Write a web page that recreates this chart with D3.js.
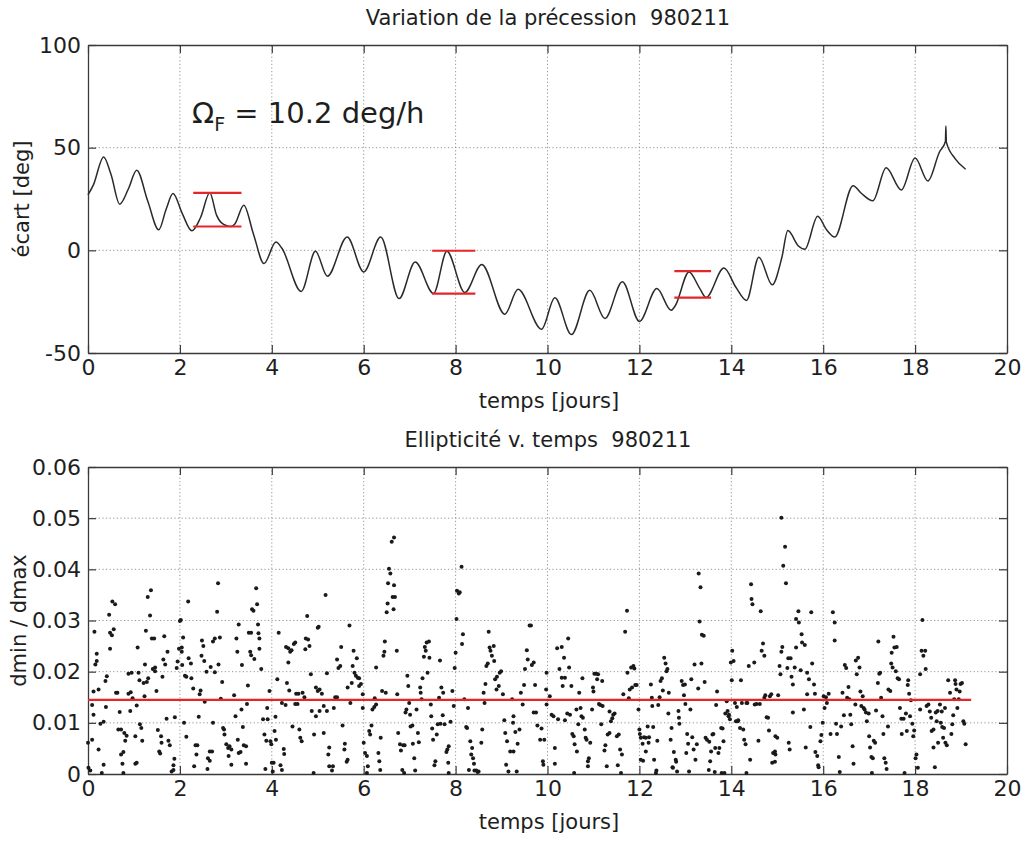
<!DOCTYPE html>
<html>
<head>
<meta charset="utf-8">
<title>Variation de la précession 980211</title>
<script src="https://d3js.org/d3.v7.min.js"></script>
<style>
  body { margin: 0; background: #fff; }
  text { font-family: "DejaVu Sans", sans-serif; fill: #1e1e1e; white-space: pre; }
</style>
</head>
<body>
<script>
// ---- data ----
var xTicks = [0, 2, 4, 6, 8, 10, 12, 14, 16, 18, 20];
var precTicks = [-50, 0, 50, 100];
var ellipTicks = [0, 0.01, 0.02, 0.03, 0.04, 0.05, 0.06];
var ellipLabels = ["0", "0.01", "0.02", "0.03", "0.04", "0.05", "0.06"];

// precession deviation [deg] vs time [days]
var precT = [0, 0.12, 0.34, 0.5, 0.69, 0.88, 1.06, 1.3, 1.54, 1.7, 1.85, 2.05, 2.26, 2.45, 2.65, 2.8, 2.9, 3.11, 3.2, 3.39,
  3.6, 3.83, 4.09, 4.22, 4.64, 4.95, 5.21, 5.64, 6.0, 6.37, 6.77, 7.12, 7.52, 7.81, 8.2, 8.57, 9.07, 9.36, 9.87, 10.16,
  10.52, 10.92, 11.25, 11.63, 12.0, 12.38, 12.69, 12.78, 13.08, 13.3, 13.45, 13.84, 14.1, 14.33, 14.6, 14.89, 15.1, 15.23, 15.46, 15.6,
  15.88, 16.07, 16.25, 16.65, 16.83, 17.08, 17.37, 17.7, 18.0, 18.28, 18.53, 18.66, 18.67, 18.68, 18.87, 19.1];
var precV = [27, 32, 45.5, 37, 22.5, 30, 39, 24, 10, 20, 27.7, 18, 9.5, 16, 28, 17, 13.5, 11.6, 13, 22,
  8, -6.4, 4, 1, -20, -0.5, -12.6, 6.5, -10.5, 6.5, -23.5, -5.7, -21, -0.5, -20.5, -6.9, -31.1, -19, -38.4, -23.1,
  -41, -19.5, -33.2, -15.3, -34.6, -18.6, -29.2, -27, -10.5, -18, -23, -8.6, -18, -24.4, -3.4, -16.8, -3.5, 9.6, 2.1, 0.5,
  16.6, 10.1, 6.5, 31.5, 27.8, 24.1, 40.2, 29.4, 45, 33.8, 47.9, 53, 60.5, 52.7, 44.7, 39.5];

// red marks: peak / trough levels [t0, t1, deg]
var precMarks = [[2.29, 3.34, 28.0], [2.29, 3.34, 11.6], [7.49, 8.43, -0.2], [7.49, 8.43, -21.1],
  [12.76, 13.56, -10.1], [12.76, 13.56, -23.0]];

// dmin / dmax vs time [days]
var ellipticity = [
  [0.00,.0061],[0.09,.0067],[0.01,.0012],[0.05,.0007],[0.09,.0135],[0.12,.0116],[0.12,.0161],[0.23,.0165],[0.14,.0278],[0.16,.0214],
  [0.19,.0221],[0.19,.0235],[0.23,.0048],[0.27,.0098],[0.34,.0102],[0.30,.0002],[0.34,.0018],[0.39,.0131],[0.38,.0182],[0.41,.0191],
  [0.46,.0311],[0.48,.0245],[0.48,.0276],[0.52,.0271],[0.56,.0283],[0.53,.0337],[0.59,.0332],[0.61,.0159],[0.64,.0159],[0.66,.0087],
  [0.72,.0087],[0.69,.0121],[0.72,.0038],[0.77,.0043],[0.75,.0020],[0.77,.0002],[0.79,.0080],[0.84,.0075],[0.81,.0065],[0.88,.0196],
  [0.95,.0198],[0.88,.0157],[0.93,.0160],[0.92,.0123],[0.97,.0148],[1.03,.0020],[1.06,.0022],[1.03,.0074],[1.06,.0134],[1.08,.0247],
  [1.10,.0198],[1.12,.0183],[1.13,.0097],[1.16,.0090],[1.18,.0065],[1.21,.0178],[1.28,.0180],[1.31,.0187],[1.23,.0152],[1.24,.0214],
  [1.26,.0280],[1.30,.0346],[1.37,.0359],[1.35,.0310],[1.39,.0265],[1.44,.0265],[1.41,.0205],[1.46,.0201],[1.46,.0208],[1.49,.0162],
  [1.52,.0086],[1.55,.0044],[1.57,.0040],[1.59,.0074],[1.60,.0061],[1.62,.0190],[1.64,.0224],[1.68,.0214],[1.66,.0269],[1.71,.0108],
  [1.73,.0239],[1.75,.0065],[1.78,.0056],[1.82,.0005],[1.86,.0008],[1.86,.0017],[1.88,.0030],[1.89,.0111],[1.93,.0207],[1.95,.0220],
  [1.98,.0245],[2.04,.0247],[2.00,.0299],[2.02,.0301],[2.04,.0239],[2.05,.0213],[2.07,.0267],[2.09,.0100],[2.11,.0192],[2.14,.0190],
  [2.14,.0073],[2.18,.0337],[2.19,.0226],[2.24,.0216],[2.25,.0187],[2.29,.0167],[2.31,.0015],[2.34,.0056],[2.38,.0056],[2.36,.0038],
  [2.41,.0112],[2.43,.0156],[2.45,.0163],[2.47,.0231],[2.48,.0261],[2.51,.0250],[2.53,.0221],[2.54,.0141],[2.58,.0200],[2.61,.0031],
  [2.65,.0026],[2.65,.0044],[2.70,.0044],[2.60,.0010],[2.67,.0209],[2.72,.0100],[2.72,.0259],[2.76,.0265],[2.76,.0199],[2.81,.0317],
  [2.83,.0373],[2.84,.0214],[2.87,.0267],[2.89,.0147],[2.92,.0180],[2.94,.0090],[2.96,.0087],[2.97,.0077],[3.01,.0058],[3.05,.0051],
  [3.08,.0054],[3.12,.0048],[3.06,.0035],[3.12,.0018],[3.18,.0154],[3.21,.0113],[3.23,.0265],[3.25,.0239],[3.26,.0067],[3.28,.0292],
  [3.28,.0041],[3.32,.0043],[3.34,.0126],[3.35,.0213],[3.37,.0092],[3.39,.0056],[3.44,.0054],[3.44,.0020],[3.46,.0137],[3.48,.0173],
  [3.50,.0276],[3.55,.0276],[3.53,.0239],[3.55,.0232],[3.57,.0322],[3.60,.0319],[3.62,.0225],[3.66,.0363],[3.68,.0332],[3.70,.0292],
  [3.71,.0275],[3.73,.0265],[3.73,.0245],[3.77,.0205],[3.81,.0107],[3.84,.0077],[3.86,.0010],[3.88,.0065],[3.90,.0129],[3.91,.0107],
  [3.95,.0162],[3.97,.0064],[3.99,.0058],[4.00,.0022],[4.04,.0022],[4.02,.0005],[4.06,.0084],[4.08,.0112],[4.09,.0067],[4.12,.0185],
  [4.15,.0276],[4.19,.0017],[4.22,.0008],[4.22,.0139],[4.26,.0049],[4.27,.0039],[4.30,.0135],[4.31,.0248],[4.36,.0246],[4.33,.0178],
  [4.36,.0218],[4.38,.0163],[4.40,.0239],[4.43,.0242],[4.45,.0093],[4.48,.0254],[4.51,.0257],[4.51,.0137],[4.56,.0137],[4.53,.0157],
  [4.58,.0157],[4.60,.0087],[4.62,.0071],[4.65,.0064],[4.67,.0159],[4.71,.0150],[4.73,.0244],[4.74,.0265],[4.77,.0309],[4.79,.0263],
  [4.82,.0250],[4.85,.0195],[4.87,.0123],[4.91,.0002],[4.92,.0077],[4.96,.0113],[4.96,.0169],[5.00,.0162],[5.00,.0286],
  [5.02,.0288],[5.04,.0165],[5.09,.0157],[5.04,.0123],[5.13,.0133],[5.13,.0080],[5.17,.0350],[5.20,.0197],[5.20,.0123],[5.23,.0038],
  [5.25,.0052],[5.25,.0015],[5.31,.0007],[5.33,.0015],[5.35,.0129],[5.38,.0150],[5.42,.0150],[5.42,.0224],[5.45,.0207],[5.49,.0211],
  [5.51,.0248],[5.54,.0095],[5.58,.0048],[5.59,.0059],[5.63,.0024],[5.65,.0028],[5.65,.0169],[5.69,.0290],[5.71,.0139],[5.74,.0178],
  [5.76,.0211],[5.78,.0241],[5.80,.0198],[5.83,.0192],[5.85,.0226],[5.87,.0188],[5.90,.0187],[5.90,.0172],[5.94,.0176],[5.98,.0156],
  [5.98,.0129],[6.00,.0061],[6.03,.0041],[6.07,.0035],[6.07,.0002],[6.09,.0015],[6.12,.0084],[6.14,.0077],[6.17,.0095],[6.19,.0126],
  [6.23,.0131],[6.24,.0148],[6.27,.0136],[6.27,.0208],[6.32,.0041],[6.34,.0025],[6.36,.0008],[6.37,.0071],[6.40,.0162],[6.43,.0231],
  [6.45,.0239],[6.46,.0259],[6.48,.0159],[6.50,.0316],[6.52,.0333],[6.53,.0373],[6.55,.0401],[6.58,.0392],[6.61,.0454],[6.66,.0462],
  [6.63,.0346],[6.65,.0322],[6.66,.0369],[6.68,.0346],[6.72,.0241],[6.73,.0156],[6.75,.0080],[6.79,.0058],[6.81,.0046],[6.84,.0008],
  [6.86,.0056],[6.88,.0002],[6.89,.0056],[6.91,.0120],[6.93,.0126],[6.95,.0192],[6.97,.0172],[6.99,.0139],[7.01,.0116],[7.02,.0093],
  [7.06,.0095],[7.07,.0059],[7.10,.0031],[7.12,.0007],[7.15,.0126],[7.18,.0080],[7.20,.0062],[7.23,.0169],[7.24,.0159],[7.26,.0146],
  [7.28,.0187],[7.31,.0229],[7.33,.0248],[7.35,.0241],[7.37,.0257],[7.39,.0198],[7.42,.0259],[7.43,.0227],[7.46,.0136],[7.47,.0113],
  [7.49,.0089],[7.51,.0067],[7.54,.0017],[7.56,.0025],[7.59,.0077],[7.61,.0097],[7.64,.0149],[7.66,.0222],[7.67,.0098],[7.69,.0169],
  [7.72,.0115],[7.73,.0159],[7.76,.0097],[7.80,.0043],[7.82,.0048],[7.84,.0022],[7.85,.0054],[7.85,.0002],[7.89,.0102],[7.93,.0162],
  [7.96,.0133],[7.98,.0207],[8.00,.0237],[8.02,.0303],[8.03,.0358],[8.07,.0353],[8.09,.0355],[8.13,.0405],[8.14,.0254],[8.16,.0273],
  [8.19,.0146],[8.23,.0092],[8.25,.0090],[8.27,.0129],[8.29,.0008],[8.32,.0064],[8.34,.0038],[8.36,.0051],[8.38,.0031],[8.40,.0020],
  [8.41,.0007],[8.45,.0007],[8.48,.0004],[8.50,.0005],[8.56,.0061],[8.58,.0087],[8.61,.0159],[8.63,.0139],[8.65,.0176],[8.67,.0211],
  [8.70,.0216],[8.72,.0278],[8.74,.0247],[8.76,.0241],[8.79,.0231],[8.83,.0250],[8.84,.0221],[8.86,.0185],[8.89,.0165],[8.90,.0190],
  [8.94,.0172],[8.96,.0198],[8.99,.0201],[9.03,.0156],[9.06,.0105],[9.08,.0080],[9.10,.0018],[9.12,.0064],[9.15,.0005],[9.19,.0044],
  [9.23,.0146],[9.25,.0100],[9.26,.0113],[9.26,.0044],[9.30,.0082],[9.33,.0005],[9.35,.0059],[9.39,.0087],[9.42,.0159],[9.46,.0136],
  [9.49,.0174],[9.51,.0205],[9.55,.0242],[9.57,.0224],[9.61,.0290],[9.64,.0290],[9.66,.0213],[9.70,.0218],[9.70,.0120],[9.73,.0174],
  [9.75,.0120],[9.78,.0095],[9.84,.0067],[9.87,.0089],[9.90,.0025],[9.91,.0018],[9.93,.0067],[9.97,.0165],[9.98,.0198],[9.98,.0136],
  [10.05,.0152],[10.09,.0116],[10.13,.0113],[10.16,.0051],[10.16,.0020],[10.21,.0246],[10.23,.0107],[10.26,.0205],[10.31,.0248],[10.31,.0188],
  [10.33,.0172],[10.36,.0227],[10.38,.0188],[10.38,.0105],[10.43,.0118],[10.45,.0265],[10.47,.0208],[10.49,.0116],[10.52,.0172],[10.54,.0078],
  [10.57,.0074],[10.58,.0002],[10.59,.0058],[10.63,.0126],[10.64,.0044],[10.67,.0097],[10.69,.0159],[10.72,.0129],[10.74,.0113],[10.76,.0187],
  [10.77,.0110],[10.81,.0087],[10.83,.0071],[10.85,.0067],[10.88,.0025],[10.90,.0031],[10.88,.0015],[10.93,.0061],[10.97,.0126],[10.99,.0169],
  [11.00,.0161],[11.02,.0196],[11.06,.0196],[11.08,.0185],[11.10,.0195],[11.12,.0137],[11.15,.0135],[11.17,.0097],[11.19,.0182],[11.20,.0133],
  [11.24,.0046],[11.26,.0056],[11.29,.0015],[11.31,.0077],[11.35,.0080],[11.35,.0122],[11.38,.0103],[11.41,.0109],[11.43,.0116],[11.46,.0118],
  [11.51,.0074],[11.53,.0017],[11.55,.0077],[11.58,.0048],[11.60,.0002],[11.62,.0038],[11.65,.0156],[11.69,.0278],[11.73,.0319],[11.74,.0198],
  [11.77,.0148],[11.79,.0165],[11.82,.0208],[11.84,.0169],[11.87,.0211],[11.89,.0206],[11.91,.0174],[11.94,.0174],[11.98,.0126],[12.00,.0087],
  [12.01,.0078],[12.03,.0071],[12.03,.0028],[12.07,.0059],[12.08,.0026],[12.10,.0072],[12.14,.0071],[12.14,.0044],[12.18,.0093],[12.20,.0061],
  [12.21,.0072],[12.25,.0175],[12.27,.0149],[12.28,.0133],[12.30,.0092],[12.32,.0028],[12.36,.0002],[12.37,.0007],[12.39,.0065],[12.41,.0135],
  [12.44,.0150],[12.46,.0182],[12.49,.0187],[12.51,.0163],[12.54,.0227],[12.57,.0216],[12.59,.0201],[12.61,.0205],[12.63,.0118],[12.64,.0159],
  [12.68,.0067],[12.70,.0090],[12.72,.0013],[12.73,.0012],[12.75,.0043],[12.79,.0028],[12.80,.0024],[12.82,.0005],[12.85,.0123],[12.86,.0110],
  [12.87,.0098],[12.92,.0182],[12.95,.0174],[12.97,.0154],[12.99,.0175],[13.00,.0137],[13.02,.0041],[13.04,.0078],[13.06,.0059],[13.08,.0005],
  [13.11,.0126],[13.13,.0185],[13.15,.0072],[13.18,.0048],[13.20,.0214],[13.22,.0028],[13.25,.0058],[13.28,.0167],[13.29,.0392],[13.31,.0298],
  [13.33,.0365],[13.35,.0216],[13.36,.0272],[13.40,.0270],[13.42,.0180],[13.44,.0071],[13.47,.0067],[13.51,.0008],[13.52,.0063],[13.54,.0025],
  [13.56,.0044],[13.59,.0077],[13.61,.0078],[13.64,.0004],[13.65,.0051],[13.67,.0135],[13.69,.0161],[13.72,.0041],[13.74,.0051],[13.78,.0090],
  [13.79,.0002],[13.81,.0089],[13.83,.0064],[13.85,.0002],[13.87,.0118],[13.90,.0142],[13.92,.0123],[13.94,.0113],[13.95,.0116],[13.97,.0107],
  [13.99,.0218],[14.01,.0183],[14.02,.0241],[14.05,.0221],[14.08,.0139],[14.10,.0103],[14.12,.0131],[14.14,.0103],[14.15,.0105],[14.19,.0090],
  [14.21,.0183],[14.23,.0139],[14.26,.0087],[14.28,.0067],[14.31,.0058],[14.33,.0139],[14.35,.0139],[14.33,.0002],[14.38,.0211],[14.41,.0028],
  [14.43,.0371],[14.44,.0342],[14.46,.0332],[14.50,.0218],[14.51,.0136],[14.55,.0137],[14.59,.0065],[14.62,.0137],[14.64,.0318],[14.66,.0241],
  [14.69,.0255],[14.72,.0231],[14.72,.0149],[14.74,.0154],[14.77,.0111],[14.80,.0110],[14.82,.0085],[14.84,.0152],[14.87,.0156],[14.89,.0022],
  [14.91,.0041],[14.95,.0044],[14.95,.0024],[14.96,.0038],[14.96,.0074],[15.00,.0071],[15.02,.0154],[15.05,.0211],[15.07,.0195],[15.09,.0239],
  [15.11,.0248],[15.09,.0501],[15.13,.0407],[15.17,.0444],[15.19,.0373],[15.22,.0207],[15.24,.0226],[15.25,.0061],[15.27,.0048],[15.29,.0226],
  [15.31,.0190],[15.34,.0175],[15.34,.0120],[15.38,.0208],[15.41,.0247],[15.41,.0303],[15.46,.0318],[15.47,.0296],[15.51,.0203],[15.53,.0273],
  [15.54,.0257],[15.58,.0126],[15.60,.0252],[15.62,.0052],[15.65,.0198],[15.65,.0156],[15.69,.0185],[15.72,.0092],[15.74,.0316],[15.76,.0216],
  [15.80,.0175],[15.82,.0157],[15.83,.0043],[15.87,.0035],[15.89,.0017],[15.90,.0013],[15.94,.0064],[15.96,.0076],[15.99,.0100],[16.01,.0152],
  [16.03,.0129],[16.06,.0150],[16.08,.0139],[16.12,.0157],[16.16,.0078],[16.21,.0316],[16.25,.0296],[16.25,.0261],[16.28,.0098],[16.30,.0078],
  [16.34,.0033],[16.36,.0004],[16.39,.0093],[16.42,.0159],[16.45,.0115],[16.47,.0213],[16.50,.0207],[16.52,.0149],[16.55,.0170],[16.57,.0146],
  [16.59,.0116],[16.61,.0097],[16.64,.0054],[16.66,.0020],[16.70,.0136],[16.71,.0222],[16.73,.0195],[16.76,.0227],[16.79,.0208],[16.81,.0161],
  [16.83,.0133],[16.86,.0152],[16.88,.0129],[16.90,.0126],[16.93,.0120],[16.95,.0103],[16.99,.0118],[17.00,.0074],[17.02,.0052],[17.05,.0033],
  [17.06,.0002],[17.08,.0031],[17.10,.0065],[17.13,.0061],[17.15,.0124],[17.19,.0178],[17.20,.0259],[17.22,.0196],[17.24,.0198],[17.26,.0149],
  [17.29,.0113],[17.31,.0078],[17.33,.0031],[17.36,.0022],[17.38,.0010],[17.41,.0093],[17.42,.0165],[17.46,.0162],[17.48,.0216],[17.49,.0237],
  [17.51,.0208],[17.53,.0268],[17.55,.0247],[17.58,.0201],[17.60,.0248],[17.62,.0187],[17.65,.0185],[17.67,.0129],[17.70,.0108],[17.71,.0078],
  [17.75,.0108],[17.77,.0002],[17.80,.0118],[17.82,.0084],[17.84,.0174],[17.85,.0183],[17.87,.0157],[17.89,.0113],[17.91,.0144],[17.94,.0098],
  [17.96,.0074],[17.98,.0085],[18.01,.0031],[18.03,.0038],[18.06,.0012],[18.11,.0195],[18.11,.0126],[18.14,.0241],[18.16,.0301],[18.18,.0231],
  [18.22,.0241],[18.23,.0205],[18.25,.0133],[18.29,.0136],[18.32,.0122],[18.35,.0110],[18.36,.0084],[18.40,.0087],[18.40,.0052],[18.43,.0013],
  [18.45,.0120],[18.47,.0103],[18.49,.0123],[18.50,.0061],[18.54,.0136],[18.56,.0100],[18.58,.0122],[18.59,.0092],[18.61,.0071],[18.63,.0090],
  [18.65,.0129],[18.66,.0061],[18.69,.0056],[18.72,.0183],[18.76,.0159],[18.79,.0078],[18.81,.0097],[18.83,.0115],[18.85,.0146],[18.87,.0183],
  [18.88,.0176],[18.90,.0165],[18.92,.0129],[18.95,.0146],[18.97,.0161],[18.99,.0176],[19.02,.0178],[19.05,.0103],[19.07,.0098],[19.10,.0058]
];
var ellipMean = 0.0145, ellipMeanEnd = 19.22;

// ---- layout ----
var width = 1028, height = 843;
var svg = d3.select("body").append("svg").attr("width", width).attr("height", height);

var x = d3.scaleLinear().domain([0, 20]).range([88, 1007]);
var yTop = d3.scaleLinear().domain([-50, 100]).range([353, 45]);
var yBot = d3.scaleLinear().domain([0, 0.06]).range([774, 467]);

function panel(y, yTicks, yFormat, title, titleY, yLabel, yLabelX) {
  var g = svg.append("g");
  var y0 = y.range()[0], y1 = y.range()[1];

  // dotted grid
  g.selectAll(".gx").data(xTicks.slice(1, -1)).enter().append("line")
    .attr("x1", x).attr("x2", x).attr("y1", y0).attr("y2", y1)
    .attr("stroke", "#7a7a7a").attr("stroke-width", 0.8).attr("stroke-dasharray", "1.2,2.4");
  g.selectAll(".gy").data(yTicks.slice(1, -1)).enter().append("line")
    .attr("x1", x.range()[0]).attr("x2", x.range()[1]).attr("y1", y).attr("y2", y)
    .attr("stroke", "#7a7a7a").attr("stroke-width", 0.8).attr("stroke-dasharray", "1.2,2.4");

  // axes with inward ticks
  var bottom = g.append("g").attr("transform", "translate(0," + y0 + ")")
    .call(d3.axisBottom(x).tickValues(xTicks).tickSizeInner(-8).tickSizeOuter(0).tickPadding(6).tickFormat(String));
  var top = g.append("g").attr("transform", "translate(0," + y1 + ")")
    .call(d3.axisTop(x).tickValues(xTicks).tickSizeInner(-8).tickSizeOuter(0).tickFormat(""));
  var left = g.append("g").attr("transform", "translate(" + x.range()[0] + ",0)")
    .call(d3.axisLeft(y).tickValues(yTicks).tickSizeInner(-8).tickSizeOuter(0).tickPadding(7).tickFormat(yFormat));
  var right = g.append("g").attr("transform", "translate(" + x.range()[1] + ",0)")
    .call(d3.axisRight(y).tickValues(yTicks).tickSizeInner(-8).tickSizeOuter(0).tickFormat(""));
  [bottom, top, left, right].forEach(function (a) {
    a.select(".domain").attr("stroke", "#3a3a3a").attr("stroke-width", 1.3);
    a.selectAll(".tick line").attr("stroke", "#3a3a3a").attr("stroke-width", 1.2);
    a.selectAll("text").attr("font-family", "DejaVu Sans").attr("font-size", 22).attr("fill", "#1e1e1e");
  });

  svg.append("text").attr("x", 548).attr("y", titleY).attr("text-anchor", "middle")
    .attr("font-size", 21).attr("fill", "#2a2a2a").text(title);
  svg.append("text").attr("x", 549).attr("y", y0 + 55).attr("text-anchor", "middle")
    .attr("font-size", 21).text("temps [jours]");
  svg.append("text").attr("transform", "translate(" + yLabelX + "," + ((y0 + y1) / 2) + ") rotate(-90)")
    .attr("text-anchor", "middle").attr("font-size", 21).text(yLabel);
  return g;
}

panel(yTop, precTicks, String, "Variation de la précession  980211", 25, "écart [deg]", 29);
panel(yBot, ellipTicks, function (d, i) { return ellipLabels[i]; }, "Ellipticité v. temps  980211", 447, "dmin / dmax", 26);

// precession curve
var prec = precT.map(function (t, i) { return [t, precV[i]]; });
svg.append("path").datum(prec)
  .attr("fill", "none").attr("stroke", "#2a2a2a").attr("stroke-width", 1.5)
  .attr("d", d3.line().x(function (d) { return x(d[0]); }).y(function (d) { return yTop(d[1]); })
    .curve(d3.curveMonotoneX));

svg.selectAll(".mark").data(precMarks).enter().append("line")
  .attr("x1", function (d) { return x(d[0]); }).attr("x2", function (d) { return x(d[1]); })
  .attr("y1", function (d) { return yTop(d[2]); }).attr("y2", function (d) { return yTop(d[2]); })
  .attr("stroke", "#e3262b").attr("stroke-width", 2.2);

// annotation
var ann = svg.append("text").attr("x", 192).attr("y", 123)
  .attr("font-family", "Open Sans").attr("font-size", 29).attr("fill", "#111");
ann.append("tspan").text("Ω");
ann.append("tspan").attr("font-size", 19).attr("dy", 8).text("F");
ann.append("tspan").attr("dy", -8).text(" = 10.2 deg/h");

// ellipticity scatter
svg.append("g").selectAll("circle").data(ellipticity).enter().append("circle")
  .attr("cx", function (d) { return x(d[0]); }).attr("cy", function (d) { return yBot(d[1]); })
  .attr("r", 2).attr("fill", "#1a1a1a");

svg.append("line")
  .attr("x1", x(0)).attr("x2", x(ellipMeanEnd))
  .attr("y1", yBot(ellipMean)).attr("y2", yBot(ellipMean))
  .attr("stroke", "#e3262b").attr("stroke-width", 2.2);
</script>
</body>
</html>
